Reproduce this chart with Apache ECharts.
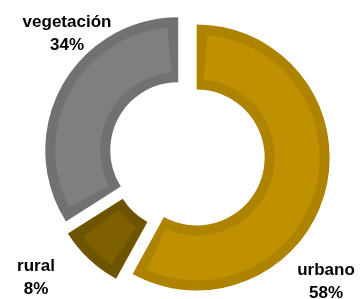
<!DOCTYPE html>
<html>
<head>
<meta charset="utf-8">
<script src="https://cdn.jsdelivr.net/npm/echarts@6/dist/echarts.min.js"></script>
<style>
  html, body { margin: 0; padding: 0; background: #fff; }
  #chart { width: 360px; height: 299px; }
</style>
</head>
<body>
<div id="chart"></div>
<script>
// land cover shares
const categories = ['urbano', 'rural', 'vegetación'];
const shares = [58, 8, 34];

const fillColors = ['#BF9000', '#7F6000', '#7F7F7F'];
const edgeColors = ['#AD8300', '#6E5300', '#717171'];

const chart = echarts.init(document.getElementById('chart'));
const center = [187, 155];
// centre of each two-line label block
const labelSpots = [[326, 282], [36, 278], [67, 34]];

function pieData(colors) {
    return categories.map((name, i) => ({
        name: name,
        value: shares[i],
        selected: true,
        itemStyle: { color: colors[i] }
    }));
}

const total = shares.reduce((a, b) => a + b, 0);
const labels = categories.map((name, i) => ({
    type: 'text',
    x: labelSpots[i][0],
    y: labelSpots[i][1],
    silent: true,
    style: {
        text: name + '\n' + Math.round(shares[i] / total * 100) + '%',
        font: 'bold 17px "Liberation Sans", Arial, sans-serif',
        lineHeight: 23,
        fill: '#000',
        align: 'center',
        verticalAlign: 'middle'
    }
}));

const common = {
    type: 'pie',
    center: center,
    startAngle: 90,
    clockwise: true,
    selectedMode: 'multiple',
    selectedOffset: 10,
    silent: true,
    emphasis: { disabled: true },
    label: { show: false },
    labelLine: { show: false }
};

const option = {
    animation: false,
    graphic: labels,
    series: [
        Object.assign({}, common, {
            radius: [68, 133],
            data: pieData(edgeColors)
        }),
        Object.assign({}, common, {
            radius: [78, 123],
            padAngle: 10,
            data: pieData(fillColors)
        })
    ]
};
chart.setOption(option);
</script>
</body>
</html>
